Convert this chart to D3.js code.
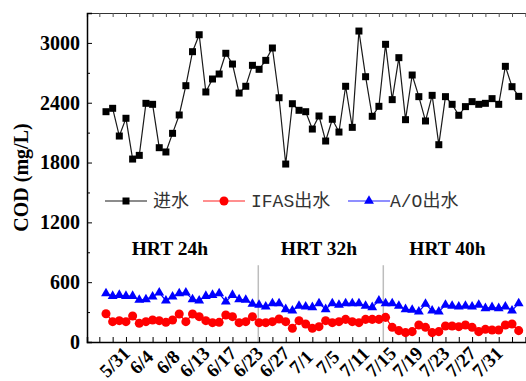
<!DOCTYPE html>
<html>
<head>
<meta charset="utf-8">
<script src="https://cdn.jsdelivr.net/npm/d3@7"></script>
<style>
  body { margin: 0; background: #fff; }
  svg { display: block; }
</style>
</head>
<body>
<div id="chart"></div>
<script>
// sample dates shown on the x axis (every 4th sample, starting at sample 2)
const dateLabels = ["5/31", "6/4", "6/8", "6/13", "6/17", "6/23", "6/27", "7/1",
  "7/5", "7/11", "7/15", "7/19", "7/23", "7/27", "7/31"];

// COD (mg/L), samples 1..63
const influent = [2310, 2344, 2066, 2244, 1835, 1872, 2394, 2384, 1949, 1906,
  2093, 2277, 2571, 2912, 3082, 2508, 2638, 2688, 2896, 2788,
  2497, 2565, 2775, 2735, 2825, 2949, 2450, 1785, 2390, 2324,
  2310, 2136, 2267, 2016, 2234, 2106, 2565, 2153, 3119, 2661,
  2264, 2364, 2986, 2431, 2852, 2230, 2678, 2461, 2217, 2474,
  1979, 2461, 2384, 2274, 2361, 2411, 2384, 2394, 2441, 2384,
  2765, 2561, 2464];

const ifasEffluent = [284, 204, 214, 204, 261, 187, 204, 221, 214, 197,
  221, 281, 204, 281, 254, 214, 194, 197, 271, 254,
  194, 204, 254, 194, 194, 204, 231, 204, 137, 214,
  181, 137, 154, 214, 194, 204, 227, 204, 194, 227,
  227, 227, 247, 147, 114, 94, 104, 171, 147, 94,
  104, 160, 160, 154, 171, 147, 104, 127, 120, 120,
  171, 181, 114];

const aoEffluent = [488, 461, 471, 461, 461, 421, 428, 455, 495, 415,
  455, 488, 495, 428, 415, 461, 471, 488, 405, 471,
  428, 421, 381, 371, 355, 388, 388, 328, 315, 361,
  355, 348, 388, 328, 388, 371, 388, 388, 388, 361,
  348, 415, 388, 388, 361, 328, 321, 304, 381, 315,
  304, 371, 361, 355, 361, 355, 371, 338, 348, 338,
  355, 315, 388];

// HRT phases: label, label position (sample index), phase boundary
const hrtNames = ["HRT 24h", "HRT 32h", "HRT 40h"];
const hrtCenters = [10.6, 33, 52.3];
const hrtBreaks = [23.88, 42.66];

const yTicks = [0, 600, 1200, 1800, 2400, 3000];

// svg dimensions
const w = 526;
const h = 381;

const svg = d3
  .select("#chart")
  .append("svg")
  .attr("width", w)
  .attr("height", h);

svg.append("rect").attr("width", w).attr("height", h).attr("fill", "#fff");

// scales (x = sample index)
const xScale = d3.scaleLinear().domain([-1.854, 64.7]).range([87, 530]);
const yScale = d3.scaleLinear().domain([0, 3300]).range([342, 13]);

const serif = "'Liberation Serif', 'Times New Roman', serif";

// phase boundaries
svg
  .selectAll(".brk")
  .data(hrtBreaks)
  .enter()
  .append("line")
  .attr("x1", (d) => xScale(d))
  .attr("x2", (d) => xScale(d))
  .attr("y1", yScale(770))
  .attr("y2", yScale(0))
  .attr("stroke", "#bdbdbd")
  .attr("stroke-width", 1.5);

// phase labels
svg
  .selectAll(".hrt")
  .data(hrtNames)
  .enter()
  .append("text")
  .attr("x", (d, i) => xScale(hrtCenters[i]))
  .attr("y", yScale(873))
  .attr("text-anchor", "middle")
  .style("font-family", serif)
  .style("font-weight", "bold")
  .style("font-size", "19.5px")
  .text((d) => d);

// series
const series = [
  { values: influent, color: "#000", line: "#1a1a1a", shape: d3.symbolSquare, size: 49 },
  { values: ifasEffluent, color: "#ff0000", line: "#ff0000", shape: d3.symbolCircle, size: 64 },
  { values: aoEffluent, color: "#0000ff", line: "#0000ff", shape: d3.symbolTriangle, size: 42 },
];

const lineFunction = d3
  .line()
  .x((d, i) => xScale(i + 1))
  .y((d) => yScale(d));

series.forEach((s) => {
  svg
    .append("path")
    .attr("d", lineFunction(s.values))
    .attr("fill", "none")
    .attr("stroke", s.line)
    .attr("stroke-width", 1.2);

  svg
    .append("g")
    .selectAll("path")
    .data(s.values)
    .enter()
    .append("path")
    .attr("d", d3.symbol().type(s.shape).size(s.size))
    .attr("transform", (d, i) => `translate(${xScale(i + 1)},${yScale(d)})`)
    .attr("fill", s.color);
});

// x axis: ticks every 2 samples, labels every 4
const xTickVals = d3.range(0, 66, 2);
const xAxis = d3
  .axisBottom(xScale)
  .tickValues(xTickVals)
  .tickSize(-5)
  .tickFormat(() => "");

svg
  .append("g")
  .attr("transform", `translate(0, ${yScale(0)})`)
  .call(xAxis)
  .call((g) => g.select(".domain").attr("stroke-width", 1.5));

// mirrored top axis
svg
  .append("g")
  .attr("transform", `translate(0, ${yScale(3300)})`)
  .call(d3.axisTop(xScale).tickValues(xTickVals).tickSize(-4).tickFormat(() => ""))
  .call((g) => g.select(".domain").attr("stroke", "#333").attr("stroke-width", 1.2))
  .call((g) => g.selectAll(".tick line").attr("stroke", "#555"));

// rotated date labels
svg
  .selectAll(".xlab")
  .data(dateLabels)
  .enter()
  .append("text")
  .attr("text-anchor", "middle")
  .attr("dominant-baseline", "central")
  .attr("transform", (d, i) => `translate(${xScale(2 + i * 4) + 2}, 362)rotate(-45)`)
  .style("font-family", serif)
  .style("font-weight", "bold")
  .style("font-size", "19px")
  .text((d) => d);

// y axis
const yAxis = d3
  .axisLeft(yScale)
  .tickValues(yTicks)
  .tickSize(-5)
  .tickPadding(7)
  .tickFormat(d3.format("d"));

svg
  .append("g")
  .attr("transform", `translate(${xScale.range()[0]}, 0)`)
  .call(yAxis)
  .call((g) => g.select(".domain").attr("stroke-width", 1.5))
  .call((g) =>
    g
      .selectAll("text")
      .style("font-family", serif)
      .style("font-weight", "bold")
      .style("font-size", "20px")
  );

// minor y ticks
svg
  .append("g")
  .attr("transform", `translate(${xScale.range()[0]}, 0)`)
  .call(d3.axisLeft(yScale).tickValues(d3.range(300, 3300, 600)).tickSize(-3).tickFormat(() => ""))
  .call((g) => g.select(".domain").remove());

// y title
svg
  .append("text")
  .attr("transform", `translate(28, ${(yScale(0) + yScale(3300)) / 2})rotate(-90)`)
  .attr("text-anchor", "middle")
  .style("font-family", serif)
  .style("font-weight", "bold")
  .style("font-size", "20px")
  .text("COD (mg/L)");

// legend
const legendNames = ["进水", "IFAS出水", "A/O出水"];
const legendX = [105, 203, 348];
const legendLine = ["#666", "#ff6a6a", "#6a6aff"];
const legendY = 201;

legendNames.forEach((name, i) => {
  const s = series[i];
  svg
    .append("line")
    .attr("x1", legendX[i])
    .attr("x2", legendX[i] + 42)
    .attr("y1", legendY)
    .attr("y2", legendY)
    .attr("stroke", legendLine[i])
    .attr("stroke-width", 1.5);

  svg
    .append("path")
    .attr("d", d3.symbol().type(s.shape).size(s.size))
    .attr("transform", `translate(${legendX[i] + 21},${legendY})`)
    .attr("fill", s.color);

  svg
    .append("text")
    .attr("x", legendX[i] + (i === 2 ? 42 : 48))
    .attr("y", legendY + 6)
    .style("font-family", "'Liberation Mono', 'Noto Sans CJK SC', monospace")
    .style("font-size", "18px")
    .attr("fill", "#333")
    .text(name);
});
</script>
</body>
</html>
